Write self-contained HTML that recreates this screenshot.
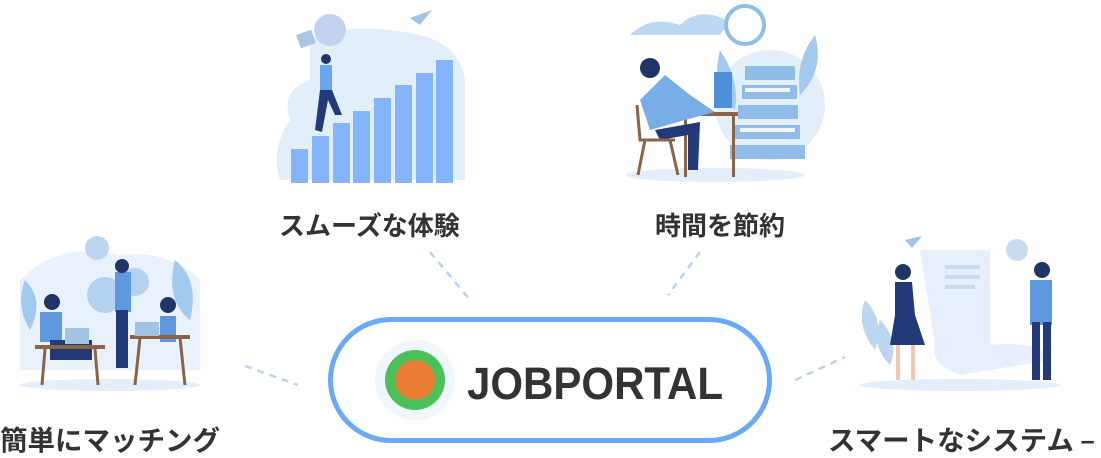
<!DOCTYPE html>
<html><head><meta charset="utf-8"><style>
html,body{margin:0;padding:0;background:#fff;}
body{width:1101px;height:458px;position:relative;overflow:hidden;font-family:"Liberation Sans","Noto Sans CJK JP",sans-serif;}
.lbl{position:absolute;font-weight:700;font-size:26px;color:#333;white-space:nowrap;font-family:"Noto Sans CJK JP",sans-serif;}
svg{position:absolute;left:0;top:0;}
</style></head><body>
<svg width="1101" height="458" viewBox="0 0 1101 458">
<g stroke="#b9d3f2" stroke-width="2.5" stroke-dasharray="7 6" fill="none">
<line x1="430" y1="252" x2="470" y2="300"/>
<line x1="700" y1="252" x2="668" y2="295"/>
<line x1="245" y1="366" x2="298" y2="385"/>
<line x1="795" y1="380" x2="845" y2="357"/>
</g>
<path d="M310 40 Q350 20 420 35 Q460 45 465 80 L465 180 L280 180 Q270 150 290 120 Q280 90 310 80 Z" fill="#e3eefb"/>
<g fill="#84b5fc">
<rect x="291" y="149" width="17" height="34"/><rect x="312" y="136" width="17" height="47"/>
<rect x="333" y="123" width="17" height="60"/><rect x="353" y="111" width="17" height="72"/>
<rect x="374" y="98" width="17" height="85"/><rect x="395" y="85" width="17" height="98"/>
<rect x="416" y="73" width="17" height="110"/><rect x="436" y="60" width="17" height="123"/>
</g>
<circle cx="330" cy="30" r="16" fill="#c3d2f0"/><rect x="298" y="32" width="16" height="14" fill="#a9c6e4" transform="rotate(-20 306 39)"/>
<rect x="320" y="65" width="12" height="26" fill="#6aa6ec"/><path d="M320 90 L315 130 L322 132 L328 100 L335 115 L342 115 L332 90 Z" fill="#223a78"/>
<circle cx="326" cy="59" r="5" fill="#1e3566"/>
<path d="M410 18 L432 10 L420 25 Z" fill="#9fc4e4"/>
<ellipse cx="715" cy="175" rx="90" ry="7" fill="#e3eefb"/>
<path d="M630 35 Q650 15 680 25 Q700 5 730 22 L720 35 Z" fill="#bcd8f2"/>
<circle cx="745" cy="25" r="19" fill="#fff" stroke="#8dbfe8" stroke-width="4"/>
<circle cx="770" cy="105" r="55" fill="#e3eefb"/>
<path d="M720 50 Q740 80 735 110 Q710 90 720 50 Z" fill="#a4c9ee"/>
<path d="M815 35 Q825 70 800 95 Q795 60 815 35 Z" fill="#a4c9ee"/>
<g fill="#8fbde8"><rect x="730" y="145" width="75" height="14"/><rect x="735" y="125" width="65" height="14"/><rect x="738" y="105" width="60" height="14"/><rect x="742" y="85" width="55" height="14"/><rect x="745" y="66" width="50" height="14"/></g>
<g fill="#f3f7fc"><rect x="740" y="128" width="55" height="4"/><rect x="745" y="88" width="45" height="4"/></g>
<rect x="714" y="72" width="18" height="36" fill="#4d8fd8"/>
<rect x="683" y="112" width="55" height="4" fill="#8b6448"/><rect x="684" y="115" width="3" height="62" fill="#8b6448"/><rect x="732" y="115" width="3" height="62" fill="#8b6448"/>
<path d="M640 100 L665 75 L690 95 L715 112 L685 120 L650 130 Z" fill="#77aee8"/>
<circle cx="650" cy="68" r="10" fill="#1e3566"/>
<path d="M655 130 L700 122 L698 170 L688 170 L688 135 L660 140 Z" fill="#223a78"/>
<path d="M637 105 L640 140 L675 140 M645 140 L638 175 M670 140 L678 175" stroke="#8b6448" stroke-width="3" fill="none"/>
<ellipse cx="110" cy="385" rx="90" ry="6" fill="#e3eefb"/>
<path d="M20 280 Q60 240 120 255 Q170 250 200 280 L200 370 L20 370 Z" fill="#e9f1fc"/>
<path d="M175 260 Q200 280 190 320 Q165 300 175 260 Z" fill="#a4c9ee"/>
<path d="M25 280 Q45 300 30 330 Q15 305 25 280Z" fill="#a4c9ee"/>
<circle cx="97" cy="248" r="12" fill="#bcd6f2"/>
<circle cx="105" cy="295" r="18" fill="#b5d1f0"/><circle cx="135" cy="282" r="14" fill="#b5d1f0"/>
<rect x="115" y="272" width="16" height="40" fill="#5d99dc"/><rect x="116" y="310" width="12" height="58" fill="#223a78"/>
<circle cx="122" cy="266" r="7" fill="#1e3566"/>
<rect x="40" y="312" width="22" height="30" fill="#5d99dc"/><circle cx="52" cy="302" r="8" fill="#1e3566"/>
<rect x="50" y="340" width="42" height="20" fill="#223a78"/>
<rect x="65" y="328" width="24" height="16" fill="#9fc4e4"/>
<rect x="35" y="345" width="70" height="4" fill="#8b6448"/>
<rect x="160" y="316" width="16" height="26" fill="#5d99dc"/><circle cx="168" cy="305" r="8" fill="#1e3566"/>
<rect x="130" y="335" width="60" height="4" fill="#8b6448"/><rect x="135" y="322" width="24" height="14" fill="#9fc4e4"/>
<path d="M140 338 L135 385 M180 338 L185 385 M45 349 L42 385 M95 349 L98 385" stroke="#8b6448" stroke-width="3"/>
<ellipse cx="960" cy="385" rx="100" ry="6" fill="#e3eefb"/>
<path d="M920 250 L990 250 L990 345 Q1040 340 1050 360 L960 375 Q930 365 935 345 Z" fill="#e6effb"/>
<g fill="#c7dcf3"><rect x="945" y="265" width="35" height="4"/><rect x="945" y="275" width="35" height="4"/><rect x="945" y="285" width="30" height="4"/></g>
<path d="M865 300 Q885 320 875 350 Q855 325 865 300Z" fill="#bcd6f2"/>
<path d="M880 320 Q900 340 890 365 Q870 345 880 320Z" fill="#bcd6f2"/>
<circle cx="1017" cy="250" r="11" fill="#c7dcf3"/>
<path d="M905 240 L922 236 L912 248 Z" fill="#9fc4e4"/>
<circle cx="903" cy="272" r="8" fill="#1e3566"/>
<path d="M895 282 L912 282 L915 315 L925 345 L890 345 L895 315 Z" fill="#223a78"/>
<rect x="896" y="345" width="4" height="35" fill="#f1c7b1"/><rect x="911" y="345" width="4" height="35" fill="#f1c7b1"/>
<circle cx="1042" cy="270" r="8" fill="#1e3566"/>
<rect x="1030" y="280" width="22" height="45" fill="#5d99dc"/>
<rect x="1032" y="322" width="8" height="58" fill="#223a78"/><rect x="1043" y="322" width="8" height="58" fill="#223a78"/>
<rect x="330.5" y="319.5" width="439" height="121" rx="60.5" fill="#fff" stroke="#6aa8f8" stroke-width="5"/>
<circle cx="415" cy="380" r="40" fill="#f0f6fd"/>
<circle cx="415" cy="380" r="30" fill="#4cc15a"/>
<circle cx="415" cy="380" r="20" fill="#e97e34"/>
<text x="467" y="399" font-family="Liberation Sans, sans-serif" font-weight="700" font-size="45" fill="#333" textLength="256" lengthAdjust="spacingAndGlyphs">JOBPORTAL</text>
</svg>
<div class="lbl" style="left:279px;top:206px;">スムーズな体験</div>
<div class="lbl" style="left:655px;top:206px;">時間を節約</div>
<div class="lbl" style="left:0px;top:418px;font-size:27.5px;">簡単にマッチング</div>
<div class="lbl" style="left:828px;top:418px;font-size:27.5px;">スマートなシステム –</div>
</body></html>
